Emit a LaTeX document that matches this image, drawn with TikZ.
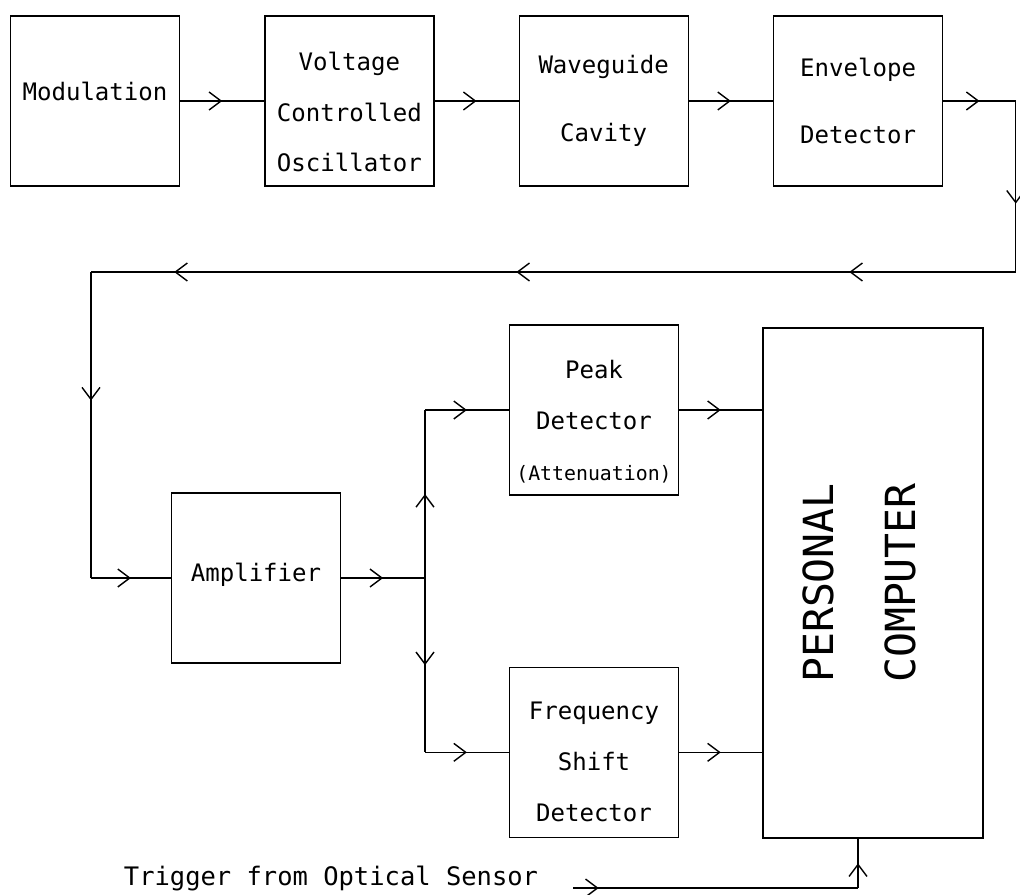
\documentclass[tikz,border=0pt]{standalone}
\usepackage{fontspec}
\setmainfont{DejaVu Sans Mono}
\usetikzlibrary{arrows.meta, positioning, calc, decorations.markings}

\tikzset{barb/.tip={Straight Barb[length=6.8pt,width=10.2pt]}}

\begin{document}
\begin{tikzpicture}[
  x=0.02cm, y=-0.02cm,
  block/.style={rectangle, draw, line width=0.8pt, minimum width=3.38cm,
                minimum height=3.4cm, align=center, inner sep=0pt,
                font=\fontsize{13.7}{29}\selectfont},
  wideblock/.style={block, font=\fontsize{13.7}{38.6}\selectfont},
  wire/.style={line width=0.8pt},
  flow/.style={wire, postaction={decorate},
               decoration={markings, mark=at position #1 with {\arrow{barb}}}},
  flow/.default=0.5
]
\useasboundingbox (0,0) rectangle (1020,895);

% Obere Reihe
\node[block, text depth=11pt] (mod) at (95,101) {Modulation};
\node[block, right=1.68cm of mod, text height=80.8pt, text depth=0pt] (vco) {Voltage\\Controlled\\Oscillator};
\node[wideblock, right=1.68cm of vco] (wg) {Waveguide\\Cavity};
\node[wideblock, right=1.68cm of wg] (env) {Envelope\\Detector};

% Untere Reihe
\node[block, text depth=7pt] (amp) at (256,578) {Amplifier};
\node[block, text height=81.8pt, text depth=1.5pt] (peak) at (594,410)
  {Peak\\Detector\\{\fontsize{11.3}{29}\selectfont (Attenuation)}};
\node[block, below=3.42cm of peak, text height=78.4pt, text depth=0pt] (freq) {Frequency\\Shift\\Detector};

% Rechner
\node[draw, line width=0.8pt, minimum width=4.4cm, minimum height=10.2cm] (pc) at (873,583) {};
\node[rotate=90, align=center, font=\fontsize{23.6}{46.7}\selectfont]
  (pctxt) at ([xshift=-0.28cm]pc.center) {PERSONAL\\COMPUTER};

\node[font=\fontsize{14.5}{17}\selectfont] (trig) at (331,878) {Trigger from Optical Sensor};

% Eckpunkte
\coordinate (envout) at ([xshift=1.45cm]env.east);
\coordinate (loopL) at (91,272);
\coordinate (loopR) at (envout |- loopL);
\coordinate (ampin) at (91,578);
\coordinate (split) at (425,578);
\coordinate (upturn) at (split |- peak);
\coordinate (downturn) at (split |- freq);
\coordinate (trigin) at (573,888);
\coordinate (trigup) at (858,888);

% Signalweg oben
\draw[flow] (mod) -- (vco);
\draw[flow] (vco) -- (wg);
\draw[flow] (wg) -- (env);
\draw[flow] (env.east) -- (envout);

% Rueckfuehrung zum Verstaerker
\draw[flow=0.6] (envout) -- (loopR);
\draw[wire, postaction={decorate},
      decoration={markings, mark=at position 0.18 with {\arrow{barb}},
                  mark=at position 0.54 with {\arrow{barb}},
                  mark=at position 0.91 with {\arrow{barb}}}] (loopR) -- (loopL);
\draw[flow=0.42] (loopL) -- (ampin);
\draw[flow] (ampin) -- (amp);

% Verzweigung
\draw[flow] (amp) -- (split);
\draw[flow] (split) -- (upturn);
\draw[flow] (upturn) -- (peak);
\draw[flow] (split) -- (downturn);
\draw[flow] (downturn) -- (freq);

% Eingaenge des Rechners
\draw[flow] (peak) -- (peak -| pc.west);
\draw[flow] (freq) -- (freq -| pc.west);
\draw[flow=0.09] (trigin) -- (trigup);
\draw[flow] (trigup) -- (trigup |- pc.south);

\end{tikzpicture}
\end{document}
